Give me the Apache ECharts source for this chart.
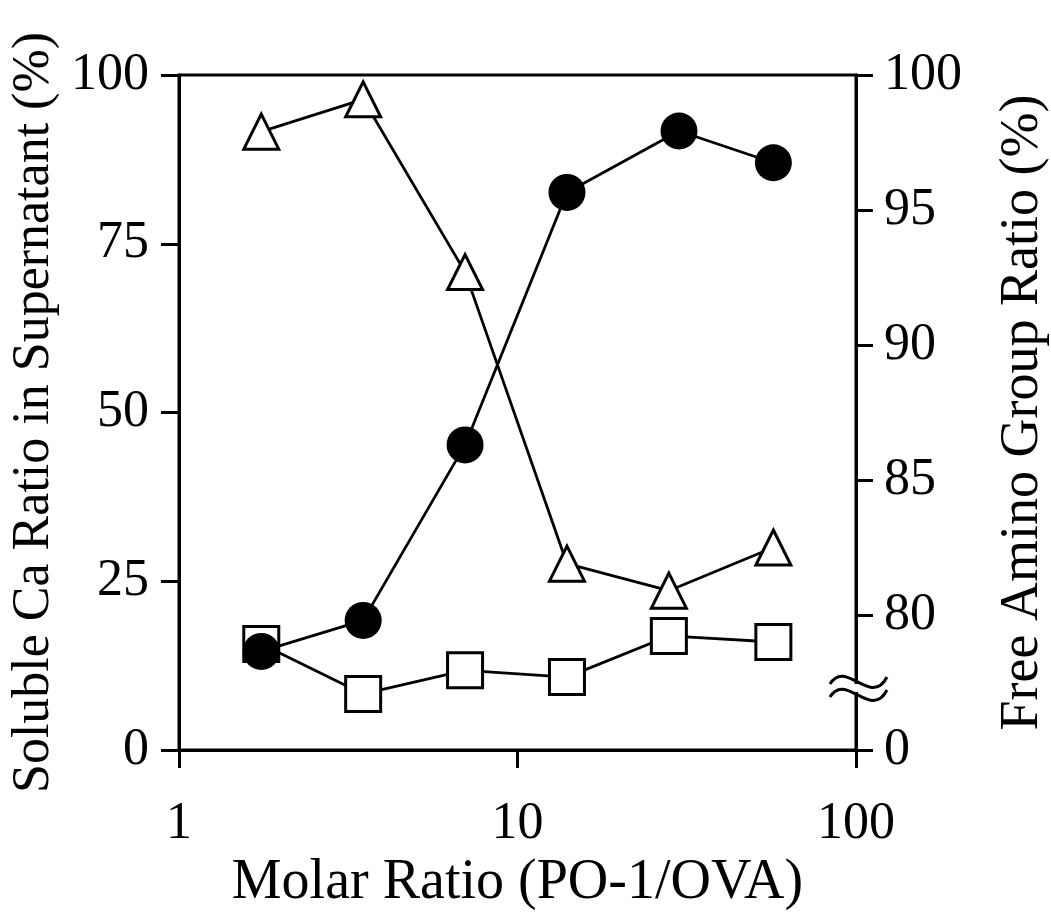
<!DOCTYPE html>
<html>
<head>
<meta charset="utf-8">
<script src="https://cdn.jsdelivr.net/npm/echarts@6/dist/echarts.min.js"></script>
<style>
html,body{margin:0;padding:0;background:#fff;}
#chart{width:1051px;height:914px;}
</style>
</head>
<body>
<div id="chart"></div>
<script>
// Molar ratio (PO-1/OVA), x positions
const ratioX = [1.75, 3.5, 7, 14, 28, 57];
const ratioXCircle = [1.75, 3.5, 7, 14, 30, 57];
// Soluble Ca ratio in supernatant (%) - left axis
const solubleCaConj = [14.6, 19.2, 45.2, 82.6, 91.7, 87.0];   // filled circles
const solubleCaCtrl = [15.7, 8.3, 11.8, 10.8, 16.9, 16.0];    // open squares
// Free amino group ratio (%) - right axis
const freeAmino = [97.9, 99.1, 92.7, 81.9, 80.9, 82.5];       // open triangles
// Axis tick labels
const xTicks = [1, 10, 100];
const leftTicks = [0, 25, 50, 75, 100];
const rightTicks = [75, 80, 85, 90, 95, 100];
const rightTickLabels = ['0', '80', '85', '90', '95', '100'];

const FONT = "'Liberation Serif', 'Times New Roman', serif";
const pair = (xs, ys) => xs.map((x, i) => [x, ys[i]]);

const chart = echarts.init(document.getElementById('chart'), null, {renderer: 'canvas'});
const axisLine = {show: true, onZero: false, lineStyle: {color: '#000', width: 3}};

chart.setOption({
  backgroundColor: '#fff',
  animation: false,
  grid: {left: 179, right: 195, top: 75, bottom: 164, show: true, borderColor: '#000', borderWidth: 3,
         backgroundColor: 'transparent', containLabel: false, outerBoundsMode: 'none'},
  xAxis: {
    type: 'log', logBase: 10, min: 1, max: 100,
    axisLine: axisLine,
    axisTick: {show: true, inside: false, length: 18, lineStyle: {color: '#000', width: 3}},
    minorTick: {show: false},
    splitLine: {show: false},
    axisLabel: {fontFamily: FONT, fontSize: 52, color: '#000', margin: 48,
      formatter: v => xTicks.includes(Math.round(v)) ? String(Math.round(v)) : ''},
    name: 'Molar Ratio (PO-1/OVA)',
    nameLocation: 'middle', nameGap: 104,
    nameTextStyle: {fontFamily: FONT, fontSize: 56, color: '#000'}
  },
  yAxis: [{
    type: 'value', min: 0, max: 100, interval: 25, position: 'left',
    axisLine: axisLine,
    axisTick: {show: true, length: 18, lineStyle: {color: '#000', width: 3}},
    splitLine: {show: false},
    axisLabel: {fontFamily: FONT, fontSize: 52, color: '#000', margin: 30,
      formatter: v => leftTicks.includes(v) ? String(v) : ''},
    name: 'Soluble Ca Ratio in Supernatant (%)',
    nameLocation: 'middle', nameGap: 110, nameRotate: 90,
    nameTextStyle: {fontFamily: FONT, fontSize: 52, color: '#000'}
  }, {
    type: 'value', min: 75, max: 100, interval: 5, position: 'right',
    axisLine: axisLine,
    axisTick: {show: true, length: 17, lineStyle: {color: '#000', width: 3}},
    splitLine: {show: false},
    axisLabel: {fontFamily: FONT, fontSize: 52, color: '#000', margin: 28,
      formatter: v => { const i = rightTicks.indexOf(v); return i >= 0 ? rightTickLabels[i] : ''; }},
    name: 'Free Amino Group Ratio (%)',
    nameLocation: 'middle', nameGap: 140, nameRotate: 90,
    nameTextStyle: {fontFamily: FONT, fontSize: 54, color: '#000'}
  }],
  series: [{
    name: 'Free amino group', type: 'line', yAxisIndex: 1,
    data: pair(ratioX, freeAmino),
    symbol: 'triangle', symbolSize: [35, 35],
    lineStyle: {color: '#000', width: 2.8},
    itemStyle: {color: '#fff', borderColor: '#000', borderWidth: 3}
  }, {
    name: 'Control', type: 'line', yAxisIndex: 0,
    data: pair(ratioX, solubleCaCtrl),
    symbol: 'rect', symbolSize: 35,
    lineStyle: {color: '#000', width: 2.8},
    itemStyle: {color: '#fff', borderColor: '#000', borderWidth: 3}
  }, {
    name: 'Soluble Ca', type: 'line', yAxisIndex: 0,
    data: pair(ratioXCircle, solubleCaConj),
    symbol: 'circle', symbolSize: 37,
    lineStyle: {color: '#000', width: 2.8},
    itemStyle: {color: '#000', borderColor: '#000', borderWidth: 0}
  }],
  graphic: [
    {type: 'rect', shape: {x: 851, y: 684, width: 10, height: 8}, style: {fill: '#fff'}, z: 100},
    {type: 'bezierCurve', shape: {x1: 830, y1: 684, cpx1: 846, cpy1: 658, cpx2: 871, cpy2: 708, x2: 887, y2: 677},
     style: {stroke: '#000', lineWidth: 3, fill: null}, z: 101},
    {type: 'bezierCurve', shape: {x1: 830, y1: 697, cpx1: 846, cpy1: 671, cpx2: 871, cpy2: 721, x2: 887, y2: 690},
     style: {stroke: '#000', lineWidth: 3, fill: null}, z: 101}
  ]
});
</script>
</body>
</html>
